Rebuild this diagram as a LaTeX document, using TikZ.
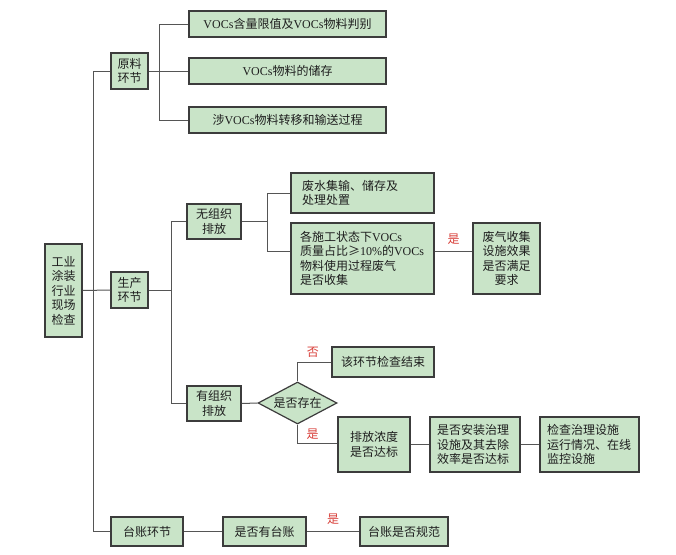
\documentclass[tikz,border=0pt]{standalone}
\usepackage{fontspec}
\setmainfont{Noto Sans CJK SC}
\newfontfamily\latn{Liberation Serif}
\usetikzlibrary{shapes.geometric,calc}
\newcommand\voc{{\latn VOCs}}
\definecolor{boxfill}{HTML}{C9E4C8}
\definecolor{boxline}{HTML}{3C3C3C}
\definecolor{conline}{HTML}{555555}
\definecolor{textc}{HTML}{1E1E1E}
\definecolor{yesred}{HTML}{D9403A}
\tikzset{
  bx/.style={draw=boxline, fill=boxfill, line width=1.2pt, inner sep=0pt,
    font=\fontsize{12}{14.5}\selectfont, align=center, text=textc},
  con/.style={draw=conline, line width=1pt},
  lbl/.style={text=yesred, font=\fontsize{12}{14}\selectfont, inner sep=0pt}
}
\begin{document}
\begin{tikzpicture}[x=1pt,y=-1pt]
\useasboundingbox (0,0) rectangle (676,554);
\fill[white] (0,0) rectangle (676,554);

% nodes
\node[bx, minimum width=37, minimum height=93] (main) at (63.5,290.5) {工业\\涂装\\行业\\现场\\检查};
\node[bx, minimum width=37, minimum height=36] (yl) at (129.5,71) {原料\\环节};
\node[bx, minimum width=197, minimum height=26] (b1) at (287.5,24) {\voc 含量限值及\voc 物料判别};
\node[bx, minimum width=197, minimum height=26] (b2) at (287.5,71) {\voc 物料的储存};
\node[bx, minimum width=197, minimum height=26] (b3) at (287.5,120) {涉\voc 物料转移和输送过程};
\node[bx, minimum width=37, minimum height=36] (sc) at (129.5,290) {生产\\环节};
\node[bx, minimum width=54, minimum height=35] (wz) at (214,221.5) {无组织\\排放};
\node[bx, minimum width=143, minimum height=40, text width=121, align=left] (fs) at (362.5,193) {废水集输、储存及\\处理处置};
\node[bx, minimum width=143, minimum height=71, text width=125, align=left] (gs) at (362.5,258.5) {各施工状态下\voc\\质量占比≥{\latn 10\%}的\voc\\物料使用过程废气\\是否收集};
\node[bx, minimum width=67, minimum height=71] (fq) at (506.5,258.5) {废气收集\\设施效果\\是否满足\\要求};
\node[bx, minimum width=54, minimum height=35] (yz) at (214,403.5) {有组织\\排放};
\node[bx, diamond, aspect=1.88, minimum width=79, minimum height=42] (dm) at (297.5,403) {是否存在};
\node[bx, minimum width=102, minimum height=30] (end) at (383,362) {该环节检查结束};
\node[bx, minimum width=72, minimum height=55] (pf) at (374,444.5) {排放浓度\\是否达标};
\node[bx, minimum width=90, minimum height=55, text width=76, align=left] (az) at (475,444.5) {是否安装治理\\设施及其去除\\效率是否达标};
\node[bx, minimum width=99, minimum height=55, text width=85, align=left] (jc) at (589.5,444.5) {检查治理设施\\运行情况、在线\\监控设施};
\node[bx, minimum width=72, minimum height=29] (tz) at (147,531.5) {台账环节};
\node[bx, minimum width=83, minimum height=29] (yt) at (264.5,531.5) {是否有台账};
\node[bx, minimum width=88, minimum height=29] (gf) at (404,531.5) {台账是否规范};

% trunk coordinates
\coordinate (k0) at (93,0);
\coordinate (k1) at (159,0);
\coordinate (k2) at (171,0);
\coordinate (k3) at (267,0);

% connectors
\draw[con] (yl.west) -- (yl.west -| k0) |- (tz.west);
\draw[con] (main.east) -- (sc.west);
\draw[con] (yl.east) -- (b2.west);
\draw[con] (b1.west) -- (b1.west -| k1) |- (b3.west);
\draw[con] (sc.east) -- (sc.east -| k2);
\draw[con] (wz.west) -- (wz.west -| k2) |- (yz.west);
\draw[con] (wz.east) -- (wz.east -| k3);
\draw[con] (fs.west) -- (fs.west -| k3) |- ([yshift=7.5pt]gs.west);
\draw[con] ([yshift=7.5pt]gs.east) -- ([yshift=7.5pt]fq.west) node[lbl, midway, yshift=12pt] {是};
\draw[con] (yz.east) -- (dm.west);
\draw[con] (dm.north) |- (end.west) node[lbl, pos=0.725, yshift=10pt] {否};
\draw[con] (dm.south) |- ([yshift=1.5pt]pf.west) node[lbl, pos=0.69, yshift=9pt] {是};
\draw[con] (pf.east) -- (az.west);
\draw[con] (az.east) -- (jc.west);
\draw[con] (tz.east) -- (yt.west);
\draw[con] (yt.east) -- (gf.west) node[lbl, midway, yshift=12pt] {是};
\end{tikzpicture}
\end{document}
